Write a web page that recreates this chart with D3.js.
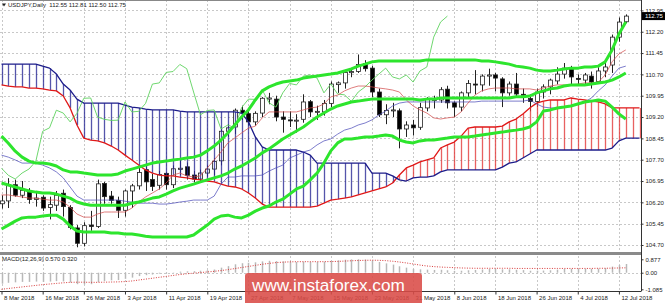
<!DOCTYPE html>
<html>
<head>
<meta charset="utf-8">
<script src="https://cdnjs.cloudflare.com/ajax/libs/d3/7.8.5/d3.min.js"></script>
<style>
  body { margin: 0; background: #fff; overflow: hidden; }
  text { font-family: "Liberation Sans", Arial, sans-serif; }
</style>
</head>
<body>
<div id="chart"></div>
<script>
// USDJPY daily, 8 Mar 2018 .. 13 Jul 2018 (one value per trading day)
var open = [106.15,106.25,106.82,106.45,106.60,106.30,106.38,106.02,106.10,106.52,
  106.02,105.30,104.76,105.40,105.35,106.86,106.42,106.27,105.92,106.60,
  106.78,107.35,107.00,106.80,107.22,106.82,107.36,107.45,107.16,107.02,
  107.23,107.37,107.66,108.70,108.85,109.44,109.32,109.03,109.34,109.83,
  109.83,109.20,109.10,109.08,109.12,109.74,109.37,109.38,109.68,110.34,
  110.40,110.76,110.80,111.08,110.92,110.08,109.28,109.45,109.42,108.78,
  108.92,108.84,109.52,109.78,109.80,110.18,109.70,109.55,110.05,110.36,
  110.33,110.64,110.68,110.54,110.05,110.36,110.00,109.85,109.75,110.08,
  110.26,110.47,110.71,110.89,110.56,110.50,110.64,110.45,110.82,111.03,
  112.01,112.55];
var high = [106.45,107.05,107.00,106.95,106.70,106.60,106.45,106.40,106.60,106.65,
  106.10,105.40,105.50,105.90,107.00,106.92,106.60,106.40,106.65,106.85,
  107.50,107.50,107.20,107.30,107.25,107.50,107.75,107.60,107.30,107.35,
  107.50,107.75,108.80,108.95,109.50,109.60,109.50,109.40,109.90,110.05,
  109.95,109.40,109.40,109.30,110.00,109.80,109.60,109.80,110.45,110.45,
  110.80,110.90,111.40,111.20,111.00,110.20,109.65,109.70,109.50,109.05,
  109.10,109.70,109.90,109.95,110.25,110.30,109.75,110.10,110.50,110.85,
  110.70,110.90,110.75,110.60,110.45,110.75,110.20,110.00,110.20,110.35,
  110.55,110.95,111.10,111.00,110.70,110.75,110.80,110.95,111.15,112.10,
  112.70,112.81];
var low = [105.98,106.00,106.40,106.35,106.15,106.05,105.90,105.60,105.90,105.70,
  105.25,104.62,104.65,105.20,105.30,106.15,106.15,105.65,105.70,106.00,
  106.65,106.60,106.60,106.65,106.65,106.70,107.15,107.00,106.90,106.90,
  107.10,107.15,107.50,108.50,108.60,109.10,108.90,108.90,109.20,109.65,
  109.05,108.65,108.85,108.65,109.00,109.20,109.10,109.25,109.55,110.05,
  110.20,110.60,110.75,110.80,109.90,109.20,108.95,109.20,108.10,108.50,
  108.55,108.75,109.40,109.50,109.70,109.50,109.20,109.40,109.90,110.00,
  110.10,110.30,110.10,109.55,109.95,109.90,109.70,109.40,109.55,109.85,
  110.00,110.35,110.55,110.30,110.30,110.30,110.20,110.40,110.60,110.75,
  111.85,112.50];
var close = [106.25,106.82,106.45,106.62,106.30,106.35,106.00,106.12,106.45,106.05,
  105.32,104.76,105.38,105.35,106.85,106.40,106.27,105.92,106.60,106.78,
  107.25,106.92,106.76,107.18,106.82,107.38,107.40,107.15,107.02,107.23,
  107.37,107.64,108.70,108.82,109.44,109.34,109.03,109.33,109.86,109.87,
  109.20,109.12,109.08,109.09,109.73,109.38,109.40,109.68,110.36,110.40,
  110.77,110.80,111.05,110.90,110.08,109.28,109.43,109.45,108.78,108.92,
  108.82,109.53,109.83,109.82,110.16,109.70,109.55,110.05,110.38,110.33,
  110.64,110.68,110.57,110.05,110.36,110.01,109.98,109.75,110.08,110.26,
  110.50,110.71,110.92,110.61,110.54,110.68,110.43,110.82,110.96,112.01,
  112.54,112.75];

// Bollinger bands
var bbUpper = [108.53,108.28,108.00,107.79,107.65,107.58,107.58,107.55,107.48,107.34,
  107.27,107.27,107.23,107.20,107.16,107.16,107.16,107.20,107.30,107.37,
  107.44,107.51,107.58,107.62,107.65,107.69,107.72,107.76,107.79,107.86,
  108.01,108.18,108.39,108.64,108.92,109.20,109.45,109.80,110.12,110.26,
  110.36,110.43,110.47,110.50,110.57,110.61,110.64,110.68,110.71,110.75,
  110.82,110.89,110.99,111.06,111.14,111.17,111.17,111.17,111.17,111.17,
  111.17,111.17,111.21,111.21,111.21,111.21,111.21,111.21,111.21,111.21,
  111.17,111.17,111.14,111.10,111.06,110.99,110.96,110.92,110.85,110.82,
  110.82,110.85,110.89,110.92,110.92,110.96,110.96,110.99,111.14,111.56,
  112.12,112.54];
var bbMiddle = [106.88,106.81,106.74,106.67,106.60,106.56,106.53,106.53,106.49,106.42,
  106.35,106.21,106.14,106.10,106.10,106.10,106.10,106.10,106.10,106.17,
  106.21,106.28,106.35,106.39,106.49,106.60,106.70,106.77,106.84,106.92,
  106.99,107.06,107.13,107.23,107.37,107.48,107.62,107.76,107.94,108.08,
  108.25,108.43,108.57,108.71,108.85,109.03,109.20,109.34,109.48,109.59,
  109.66,109.73,109.76,109.80,109.83,109.83,109.83,109.83,109.83,109.83,
  109.83,109.80,109.83,109.83,109.87,109.87,109.87,109.87,109.87,109.87,
  109.87,109.87,109.87,109.87,109.87,109.91,109.91,109.94,110.05,110.12,
  110.19,110.22,110.29,110.33,110.33,110.33,110.36,110.40,110.43,110.50,
  110.61,110.75];
var bbLower = [105.26,105.40,105.54,105.65,105.68,105.68,105.72,105.75,105.75,105.61,
  105.37,105.19,105.16,105.16,105.16,105.16,105.12,105.12,105.09,105.09,
  105.05,105.01,104.98,104.98,104.98,104.98,104.98,104.98,105.05,105.23,
  105.40,105.61,105.72,105.75,105.68,105.65,105.75,105.89,106.00,106.07,
  106.21,106.31,106.49,106.67,106.77,106.99,107.23,107.58,108.01,108.29,
  108.43,108.43,108.46,108.50,108.50,108.53,108.57,108.53,108.39,108.32,
  108.29,108.36,108.39,108.39,108.43,108.46,108.50,108.50,108.50,108.53,
  108.57,108.60,108.64,108.67,108.71,108.74,108.78,108.85,109.03,109.41,
  109.45,109.52,109.55,109.59,109.66,109.73,109.76,109.80,109.76,109.55,
  109.31,109.13];

// Ichimoku
var tenkan = [106.46,106.46,106.42,106.39,106.35,106.35,106.31,106.28,106.28,106.21,
  106.03,105.79,105.68,105.68,105.79,105.86,105.86,105.86,105.86,106.00,
  106.21,106.39,106.53,106.67,106.88,107.16,107.23,107.13,107.09,107.13,
  107.41,107.69,107.97,108.29,108.46,108.64,108.81,108.88,109.17,109.38,
  109.38,109.38,109.38,109.38,109.45,109.52,109.55,109.66,109.91,109.97,
  110.12,110.22,110.29,110.29,110.26,110.22,110.19,110.15,110.08,109.80,
  109.59,109.45,109.34,109.17,109.13,109.17,109.20,109.38,109.69,109.97,
  110.12,110.19,110.22,110.22,110.22,110.19,110.19,110.19,110.15,110.22,
  110.29,110.33,110.33,110.33,110.36,110.40,110.40,110.43,110.68,111.14,
  111.42,111.56];
var kijun = [107.86,107.79,107.69,107.58,107.58,107.58,107.51,107.41,107.27,107.06,
  106.74,106.42,106.28,106.28,106.28,106.28,106.28,106.28,106.24,106.21,
  106.17,106.17,106.17,106.14,106.14,106.17,106.21,106.24,106.28,106.28,
  106.28,106.42,106.84,107.09,107.09,107.13,107.13,107.13,107.16,107.30,
  107.41,107.51,107.76,107.86,107.97,108.04,108.22,108.36,108.43,108.60,
  108.74,108.81,108.92,108.99,109.10,109.27,109.41,109.59,109.69,109.73,
  109.73,109.73,109.73,109.73,109.73,109.73,109.73,109.73,109.73,109.73,
  109.76,109.76,109.76,109.76,109.76,109.76,109.76,109.80,109.66,109.55,
  109.52,109.52,109.55,109.59,109.66,109.73,109.87,110.12,110.33,110.64,
  110.92,110.99];
// cloud runs two bars past the last candle
var senkouA = [110.33,110.29,110.26,110.26,110.22,110.22,110.19,110.15,110.12,109.94,
  109.52,108.92,108.46,108.39,108.36,108.29,108.18,108.04,107.86,107.69,
  107.51,107.34,107.23,107.16,107.13,107.13,107.09,107.06,107.02,106.99,
  106.95,106.92,106.84,106.77,106.74,106.67,106.53,106.35,106.14,106.03,
  106.03,106.03,106.03,106.03,106.03,106.03,106.07,106.17,106.28,106.31,
  106.35,106.39,106.46,106.53,106.60,106.67,106.74,106.88,107.16,107.41,
  107.51,107.62,107.69,107.76,108.11,108.22,108.32,108.53,108.81,108.85,
  108.85,108.85,108.85,108.88,109.03,109.13,109.31,109.52,109.69,109.76,
  109.80,109.80,109.80,109.87,109.83,109.80,109.76,109.73,109.66,109.52,
  109.52,109.52,109.52,109.52];
var senkouB = [111.06,111.06,111.06,111.06,111.06,111.06,110.99,110.92,110.71,110.36,
  110.15,109.83,109.69,109.69,109.69,109.69,109.69,109.69,109.62,109.55,
  109.52,109.48,109.45,109.45,109.45,109.45,109.41,109.38,109.38,109.38,
  109.38,109.38,109.38,109.38,109.38,109.34,109.03,108.50,108.15,108.04,
  108.04,108.04,108.04,108.04,107.97,107.86,107.58,107.58,107.58,107.58,
  107.58,107.58,107.58,107.58,107.23,107.23,107.23,107.13,106.99,106.95,
  107.06,107.09,107.09,107.13,107.27,107.34,107.34,107.34,107.34,107.34,
  107.34,107.34,107.34,107.44,107.58,107.62,107.76,107.90,108.04,108.04,
  108.04,108.04,108.04,108.04,108.04,108.04,108.04,108.04,108.04,108.11,
  108.36,108.46,108.46,108.46];
var chikouShift = 26;

// MACD(12,26,9)
var macd = [-0.72,-0.66,-0.63,-0.60,-0.60,-0.58,-0.60,-0.58,-0.55,-0.57,
  -0.64,-0.75,-0.76,-0.75,-0.62,-0.55,-0.50,-0.48,-0.40,-0.32,
  -0.22,-0.16,-0.12,-0.06,-0.04,0.02,0.07,0.09,0.10,0.13,
  0.16,0.21,0.33,0.43,0.55,0.62,0.65,0.68,0.74,0.78,
  0.76,0.74,0.72,0.70,0.72,0.71,0.70,0.72,0.78,0.81,
  0.85,0.87,0.877,0.86,0.80,0.70,0.61,0.53,0.42,0.33,
  0.25,0.22,0.20,0.18,0.19,0.16,0.12,0.13,0.16,0.18,
  0.21,0.24,0.25,0.22,0.22,0.19,0.17,0.13,0.13,0.14,
  0.16,0.20,0.24,0.25,0.25,0.26,0.25,0.27,0.30,0.40,
  0.50,0.57];
var signal = [-1.085,-1.03,-0.98,-0.93,-0.88,-0.83,-0.78,-0.74,-0.70,-0.66,
  -0.63,-0.62,-0.62,-0.63,-0.63,-0.62,-0.61,-0.60,-0.58,-0.54,
  -0.48,-0.42,-0.36,-0.30,-0.24,-0.18,-0.12,-0.07,-0.03,0.01,
  0.05,0.09,0.14,0.20,0.27,0.34,0.41,0.48,0.55,0.61,
  0.66,0.69,0.71,0.72,0.72,0.72,0.72,0.72,0.73,0.74,
  0.76,0.78,0.80,0.81,0.82,0.81,0.79,0.75,0.70,0.64,
  0.57,0.50,0.44,0.40,0.37,0.35,0.33,0.31,0.30,0.29,
  0.29,0.29,0.29,0.29,0.29,0.28,0.28,0.28,0.28,0.28,
  0.28,0.28,0.28,0.28,0.28,0.28,0.28,0.29,0.29,0.30,
  0.31,0.32];

var priceTicks = [112.95,112.20,111.45,110.70,109.95,109.20,108.45,107.70,106.95,106.20,105.45,104.70];
var macdTicks = [0.877, 0, -1.085];
var macdTickText = ["0.877", "0.00", "-1.085"];
var dateTickBars = [0,6,12,18,24,30,36,42,48,54,60,66,72,78,84,90];
var dateTickLabels = ["8 Mar 2018","16 Mar 2018","26 Mar 2018","3 Apr 2018","11 Apr 2018","19 Apr 2018",
  "27 Apr 2018","7 May 2018","15 May 2018","23 May 2018","31 May 2018","8 Jun 2018",
  "18 Jun 2018","26 Jun 2018","4 Jul 2018","12 Jul 2018"];

var W = 665, H = 303, plotR = 641;
var priceBottom = 252, macdTop = 256, axisY = 291;

var svg = d3.select("#chart").append("svg").attr("width", W).attr("height", H);

var x = d3.scaleLinear().domain([0, 93]).range([1.5, 639.5]);
var y = d3.scaleLinear().domain([104.70, 112.95]).range([245, 10.4]);
var ym = d3.scaleLinear().domain([-1.085, 0.877]).range([289.3, 259.3]);

var defs = svg.append("defs");
defs.append("clipPath").attr("id", "clipP").append("rect").attr("x", 0).attr("y", 0).attr("width", plotR).attr("height", priceBottom);
defs.append("clipPath").attr("id", "clipM").append("rect").attr("x", 0).attr("y", macdTop).attr("width", plotR).attr("height", axisY - macdTop);

// grid
var grid = svg.append("g").attr("stroke", "#c8c8c8").attr("stroke-dasharray", "2,2").attr("stroke-width", 1);
grid.selectAll(".hg").data(priceTicks).enter().append("line")
  .attr("x1", 0).attr("x2", plotR).attr("y1", d => Math.round(y(d)) + 0.5).attr("y2", d => Math.round(y(d)) + 0.5);
grid.selectAll(".vg").data(dateTickBars).enter().append("line")
  .attr("x1", d => Math.round(x(d)) + 0.5).attr("x2", d => Math.round(x(d)) + 0.5)
  .attr("y1", 0).attr("y2", priceBottom);
grid.selectAll(".vg2").data(dateTickBars).enter().append("line")
  .attr("x1", d => Math.round(x(d)) + 0.5).attr("x2", d => Math.round(x(d)) + 0.5)
  .attr("y1", macdTop).attr("y2", axisY);
grid.append("line").attr("x1", 0).attr("x2", plotR).attr("y1", Math.round(ym(0)) + 0.5).attr("y2", Math.round(ym(0)) + 0.5);

var pg = svg.append("g").attr("clip-path", "url(#clipP)");

// candles
var idx = d3.range(close.length);
pg.append("g").selectAll("line").data(idx).enter().append("line")
  .attr("x1", i => Math.round(x(i)) + 0.5).attr("x2", i => Math.round(x(i)) + 0.5)
  .attr("y1", i => y(high[i])).attr("y2", i => y(low[i]))
  .attr("stroke", "#222").attr("stroke-width", 1);
pg.append("g").selectAll("rect").data(idx).enter().append("rect")
  .attr("x", i => Math.round(x(i)) - 1.5).attr("width", 4)
  .attr("y", i => y(Math.max(open[i], close[i])))
  .attr("height", i => Math.max(1, Math.abs(y(open[i]) - y(close[i]))))
  .attr("fill", i => close[i] >= open[i] ? "#fff" : "#000")
  .attr("stroke", "#222").attr("stroke-width", 0.8);

// cloud hatch
var cloudIdx = d3.range(senkouA.length);
pg.append("g").selectAll("line").data(cloudIdx).enter().append("line")
  .attr("x1", i => Math.round(x(i)) + 0.5).attr("x2", i => Math.round(x(i)) + 0.5)
  .attr("y1", i => y(senkouA[i])).attr("y2", i => y(senkouB[i]))
  .attr("stroke", i => senkouA[i] >= senkouB[i] ? "#e23a3a" : "#2a2a96")
  .attr("stroke-opacity", 0.8).attr("stroke-width", 1.3);

function drawLine(g, data, xs, ys, color, width, extra) {
  var ln = d3.line().x((d, i) => xs(i)).y(d => ys(d));
  var p = g.append("path").datum(data).attr("d", ln).attr("fill", "none")
    .attr("stroke", color).attr("stroke-width", width).attr("stroke-linejoin", "round");
  if (extra) extra(p);
  return p;
}

drawLine(pg, senkouA, x, y, "#e01818", 1.3);
drawLine(pg, senkouB, x, y, "#1c1c8a", 1.3);
drawLine(pg, close.slice(chikouShift), x, y, "#5fd35f", 0.9);
drawLine(pg, kijun, x, y, "#4a4ab8", 0.9, p => p.attr("stroke-opacity", 0.8));
drawLine(pg, tenkan, x, y, "#d24a4a", 0.9, p => p.attr("stroke-opacity", 0.8));
drawLine(pg, bbUpper, x, y, "#2de52d", 3);
drawLine(pg, bbMiddle, x, y, "#2de52d", 3);
drawLine(pg, bbLower, x, y, "#2de52d", 3);

// MACD panel
var mg = svg.append("g").attr("clip-path", "url(#clipM)");
mg.append("g").selectAll("line").data(idx).enter().append("line")
  .attr("x1", i => Math.round(x(i)) + 0.5).attr("x2", i => Math.round(x(i)) + 0.5)
  .attr("y1", ym(0)).attr("y2", i => ym(macd[i]))
  .attr("stroke", "#b8b8b8").attr("stroke-width", 1.5);
drawLine(mg, signal, x, ym, "#d83a3a", 1, p => p.attr("stroke-dasharray", "1,1.5"));

// frame and separators
svg.append("line").attr("x1", 0).attr("x2", plotR).attr("y1", 0.5).attr("y2", 0.5).attr("stroke", "#888");
svg.append("rect").attr("x", 0).attr("y", priceBottom).attr("width", plotR + 0.5).attr("height", 3).attr("fill", "#8a8a8a");
svg.append("line").attr("x1", plotR + 0.5).attr("x2", plotR + 0.5).attr("y1", 0).attr("y2", axisY).attr("stroke", "#333");
svg.append("line").attr("x1", 0).attr("x2", plotR + 0.5).attr("y1", axisY + 0.5).attr("y2", axisY + 0.5).attr("stroke", "#333");

// axes
var fs = 6;
var yAxis = d3.axisRight(y).tickValues(priceTicks).tickFormat(d3.format(".2f")).tickSize(2).tickPadding(2);
var ya = svg.append("g").attr("transform", "translate(" + (plotR + 0.5) + ",0)").call(yAxis);
var mAxis = d3.axisRight(ym).tickValues(macdTicks).tickFormat((d, i) => macdTickText[i]).tickSize(2).tickPadding(2);
var ma = svg.append("g").attr("transform", "translate(" + (plotR + 0.5) + ",0)").call(mAxis);
var xAxis = d3.axisBottom(x).tickValues(dateTickBars).tickFormat((d, i) => dateTickLabels[i]).tickSize(3).tickPadding(1);
var xa = svg.append("g").attr("transform", "translate(0," + (axisY + 0.5) + ")").call(xAxis);
[ya, ma, xa].forEach(function (a) {
  a.select(".domain").remove();
  a.selectAll("line").attr("stroke", "#333");
  a.selectAll("text").attr("font-size", fs).attr("fill", "#222").attr("font-family", "Liberation Sans, Arial, sans-serif");
});
xa.selectAll("text").attr("text-anchor", "start").attr("dx", 2);

// last price marker
var lastP = close[close.length - 1];
svg.append("rect").attr("x", plotR + 1).attr("y", y(lastP) - 4).attr("width", W - plotR).attr("height", 8).attr("fill", "#000");
svg.append("text").attr("x", plotR + 4).attr("y", y(lastP) + 2).attr("font-size", fs).attr("fill", "#fff").text(lastP.toFixed(2));

// titles
svg.append("path").attr("d", "M2,3.5L6,3.5L4,6.5Z").attr("fill", "#222");
svg.append("text").attr("x", 8).attr("y", 6.5).attr("font-size", fs).attr("fill", "#222")
  .attr("xml:space", "preserve")
  .text("USDJPY,Daily  " + open[91].toFixed(2) + " " + high[91].toFixed(2) + " " + low[91].toFixed(2) + " " + close[91].toFixed(2));
svg.append("text").attr("x", 2).attr("y", 261).attr("font-size", fs).attr("fill", "#222")
  .text("MACD(12,26,9) " + macd[91].toFixed(3) + " " + signal[91].toFixed(3));

// watermark
svg.append("rect").attr("x", 245).attr("y", 273).attr("width", 177).attr("height", 34).attr("rx", 3)
  .attr("fill", "#d94b47").attr("fill-opacity", 0.88);
svg.append("text").attr("x", 252).attr("y", 291).attr("font-size", 17.2).attr("fill", "#fff")
  .text("www.instaforex.com");
</script>
</body>
</html>
